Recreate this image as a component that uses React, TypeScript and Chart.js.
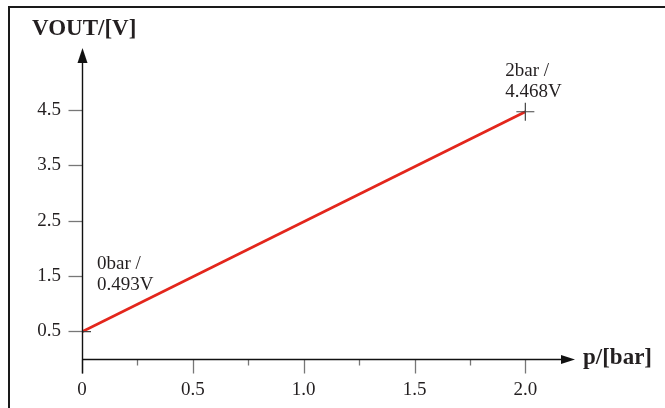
import React, { useEffect, useRef } from "react";
import { Chart, registerables } from "chart.js";

Chart.register(...registerables);

const pressureBar = [0, 2];
const voutV = [0.493, 4.468];
const pointLabels = [["0bar /", "0.493V"], ["2bar /", "4.468V"]];
const xTickValues = [0, 0.25, 0.5, 0.75, 1.0, 1.25, 1.5, 1.75, 2.0];
const yTickValues = [0.5, 1.5, 2.5, 3.5, 4.5];
const xMax = 2.224;
const yMax = 5.62;
const yTitle = "VOUT/[V]";
const xTitle = "p/[bar]";

const SERIF = "'Liberation Serif', 'Times New Roman', serif";

const decorPlugin = {
  id: "decor",
  beforeDraw(chart: any) {
    const ctx = chart.ctx;
    ctx.save();
    ctx.fillStyle = "#fff";
    ctx.fillRect(0, 0, chart.width, chart.height);
    ctx.fillStyle = "#1a1a1a";
    ctx.fillRect(8, 6, chart.width - 8, 2);
    ctx.fillRect(8, 6, 2, chart.height - 6);
    ctx.restore();
  },
  afterDraw(chart: any) {
    const ctx = chart.ctx;
    const xs = chart.scales.x;
    const ys = chart.scales.y;
    const x0 = Math.round(xs.getPixelForValue(0)) + 0.5;
    const y0 = Math.round(ys.getPixelForValue(0)) + 0.5;
    const xEnd = xs.getPixelForValue(xMax);
    const yTop = ys.getPixelForValue(yMax);
    ctx.save();
    // ticks
    ctx.strokeStyle = "#777";
    ctx.lineWidth = 1.3;
    yTickValues.forEach((v) => {
      const py = Math.round(ys.getPixelForValue(v)) + 0.5;
      ctx.beginPath();
      ctx.moveTo(x0 - 14, py);
      ctx.lineTo(x0, py);
      ctx.stroke();
    });
    xTickValues.forEach((v, i) => {
      const px = Math.round(xs.getPixelForValue(v)) + 0.5;
      const len = i % 2 === 0 ? 14 : 6;
      ctx.beginPath();
      ctx.moveTo(px, y0);
      ctx.lineTo(px, y0 + len);
      ctx.stroke();
    });
    // axes
    ctx.strokeStyle = "#111";
    ctx.fillStyle = "#111";
    ctx.lineWidth = 1.4;
    ctx.beginPath();
    ctx.moveTo(x0, y0 + 14);
    ctx.lineTo(x0, yTop + 14);
    ctx.stroke();
    ctx.beginPath();
    ctx.moveTo(x0, y0);
    ctx.lineTo(xEnd - 13, y0);
    ctx.stroke();
    ctx.beginPath();
    ctx.moveTo(x0, yTop);
    ctx.lineTo(x0 - 5, yTop + 15);
    ctx.lineTo(x0 + 5, yTop + 15);
    ctx.closePath();
    ctx.fill();
    ctx.beginPath();
    ctx.moveTo(xEnd, y0);
    ctx.lineTo(xEnd - 14, y0 - 4.5);
    ctx.lineTo(xEnd - 14, y0 + 4.5);
    ctx.closePath();
    ctx.fill();
    // titles
    ctx.fillStyle = "#231f20";
    ctx.font = `bold 23px ${SERIF}`;
    ctx.textBaseline = "middle";
    ctx.textAlign = "left";
    ctx.fillText(yTitle, 32, 29);
    ctx.fillText(xTitle, xEnd + 8, y0 - 1);
    // point annotations
    ctx.font = `19px ${SERIF}`;
    ctx.textBaseline = "alphabetic";
    const offsets = [
      [15, -63],
      [-20, -36],
    ];
    pressureBar.forEach((p, i) => {
      const px = xs.getPixelForValue(p);
      const py = ys.getPixelForValue(voutV[i]);
      const [dx, dy] = offsets[i];
      ctx.fillText(pointLabels[i][0], px + dx, py + dy);
      ctx.fillText(pointLabels[i][1], px + dx, py + dy + 21);
    });
    ctx.restore();
  },
};

export default function App() {
  const ref = useRef<HTMLCanvasElement | null>(null);
  useEffect(() => {
    if (!ref.current) return;
    const chart = new Chart(ref.current, {
      type: "scatter",
      data: {
        datasets: [
          {
            data: pressureBar.map((p, i) => ({ x: p, y: voutV[i] })),
            showLine: true,
            borderColor: "#e3261c",
            borderWidth: 2.8,
            pointStyle: "cross",
            pointRadius: 9,
            pointBorderColor: "#444",
            pointBorderWidth: 1.2,
            pointBackgroundColor: "#444",
          },
        ],
      },
      plugins: [decorPlugin],
      options: {
        animation: false,
        responsive: true,
        maintainAspectRatio: false,
        layout: { padding: { left: 0, top: 48, right: 90, bottom: 0 } },
        plugins: { legend: { display: false }, tooltip: { enabled: false } },
        scales: {
          x: {
            type: "linear",
            min: 0,
            max: xMax,
            grid: { display: false },
            border: { display: false },
            afterBuildTicks: (s: any) => {
              s.ticks = xTickValues.map((v) => ({ value: v }));
            },
            afterFit: (s: any) => {
              s.height = 49;
            },
            ticks: {
              padding: 12,
              color: "#231f20",
              font: { family: SERIF, size: 19 },
              maxRotation: 0,
              autoSkip: false,
              callback: (v: any) => {
                const n = Number(v);
                if (Math.abs(n * 2 - Math.round(n * 2)) > 1e-6) return "";
                return n === 0 ? "0" : n.toFixed(1);
              },
            },
          },
          y: {
            type: "linear",
            min: 0,
            max: yMax,
            grid: { display: false },
            border: { display: false },
            afterBuildTicks: (s: any) => {
              s.ticks = yTickValues.map((v) => ({ value: v }));
            },
            afterFit: (s: any) => {
              s.width = 82;
            },
            ticks: {
              padding: 13,
              color: "#231f20",
              font: { family: SERIF, size: 19 },
              autoSkip: false,
              callback: (v: any) => Number(v).toFixed(1),
            },
          },
        },
      },
    });
    return () => chart.destroy();
  }, []);
  return (
    <div style={{ position: "absolute", left: 0, top: 0, width: 665, height: 408 }}>
      <canvas ref={ref} />
    </div>
  );
}
